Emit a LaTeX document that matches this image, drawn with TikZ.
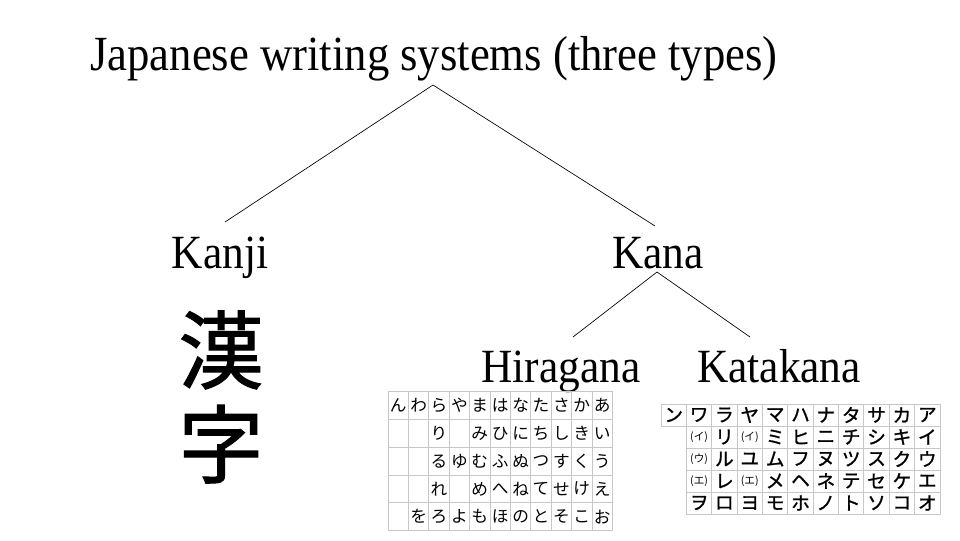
\documentclass[tikz,border=0pt]{standalone}
\usepackage{fontspec}
\setmainfont{Liberation Serif}
\newfontfamily\jpfont{Noto Sans CJK JP}
\newfontfamily\jpthick[FakeBold=1.2]{Noto Sans CJK JP}
\newcommand{\tallbox}[1]{\scalebox{1}[1.1]{#1}}

\begin{document}
\begin{tikzpicture}[x=0.75pt,y=-0.75pt,
    heading/.style={font=\fontsize{32.5}{36}\selectfont,inner sep=0pt,anchor=base},
    branch/.style={line width=0.5pt},
    grid/.style={draw=black!22,line width=0.6pt},
    hira/.style={font=\jpfont\fontsize{12.5}{13}\selectfont,inner sep=0pt},
    kata/.style={font=\jpthick\fontsize{14}{14}\selectfont,inner sep=0pt},
    smallkata/.style={font=\jpfont\fontsize{8}{8}\selectfont,inner sep=0pt}]
\useasboundingbox (0,0) rectangle (960,540);

% tree
\node[heading,font=\fontsize{33.5}{36}\selectfont] (title) at (434,70) {\tallbox{Japanese writing systems (three types)}};
\node[heading] (kanji) at (220,268) {\tallbox{Kanji}};
\node[heading] (kana) at (658,268) {\tallbox{Kana}};
\node[heading] (hiragana) at (561,382) {\tallbox{Hiragana}};
\node[heading] (katakana) at (779,382) {\tallbox{Katakana}};
\coordinate (top) at (433,85);
\coordinate (kanjitop) at (225,222);
\coordinate (kanatop) at (655,226);
\coordinate (kanabot) at (657,272);
\coordinate (hiratop) at (573,337);
\coordinate (katatop) at (750,337);
\draw[branch] (kanjitop) -- (top) -- (kanatop);
\draw[branch] (hiratop) -- (kanabot) -- (katatop);

% kanji
\node[font=\jpthick\fontsize{64}{64}\selectfont,inner sep=0pt] (kan) at (221,350) {漢};
\node[font=\jpthick\fontsize{64}{64}\selectfont,inner sep=0pt] (ji) at (221,444) {字};

% hiragana table
\foreach \r/\row in {0/{ん,わ,ら,や,ま,は,な,た,さ,か,あ},
                     1/{,,り,,み,ひ,に,ち,し,き,い},
                     2/{,,る,ゆ,む,ふ,ぬ,つ,す,く,う},
                     3/{,,れ,,め,へ,ね,て,せ,け,え},
                     4/{,を,ろ,よ,も,ほ,の,と,そ,こ,お}}
  \foreach \ch [count=\c from 0] in \row {
    \draw[grid] ({388+\c*20.4},{391.6+\r*27.8}) rectangle ++(20.4,27.8);
    \node[hira] (h-\r-\c) at ({398.2+\c*20.4},{405.5+\r*27.8}) {\ch};
  }

% katakana table
\draw[grid] (661,404) rectangle ++(25.36,22);
\node[kata] (k-0-0) at (673.7,415) {ン};
\foreach \r/\row in {0/{ワ,ラ,ヤ,マ,ハ,ナ,タ,サ,カ,ア},
                     1/{,リ,,ミ,ヒ,ニ,チ,シ,キ,イ},
                     2/{,ル,ユ,ム,フ,ヌ,ツ,ス,ク,ウ},
                     3/{,レ,,メ,ヘ,ネ,テ,セ,ケ,エ},
                     4/{ヲ,ロ,ヨ,モ,ホ,ノ,ト,ソ,コ,オ}}
  \foreach \ch [count=\c from 1] in \row {
    \draw[grid] ({661+\c*25.36},{404+\r*22}) rectangle ++(25.36,22);
    \node[kata] (k-\r-\c) at ({673.7+\c*25.36},{415+\r*22}) {\ch};
  }
\node[smallkata] (ki1) at (699.1,437) {(イ)};
\node[smallkata] (ki2) at (749.8,437) {(イ)};
\node[smallkata] (ku1) at (699.1,459) {(ウ)};
\node[smallkata] (ke1) at (699.1,481) {(エ)};
\node[smallkata] (ke2) at (749.8,481) {(エ)};
\end{tikzpicture}
\end{document}
